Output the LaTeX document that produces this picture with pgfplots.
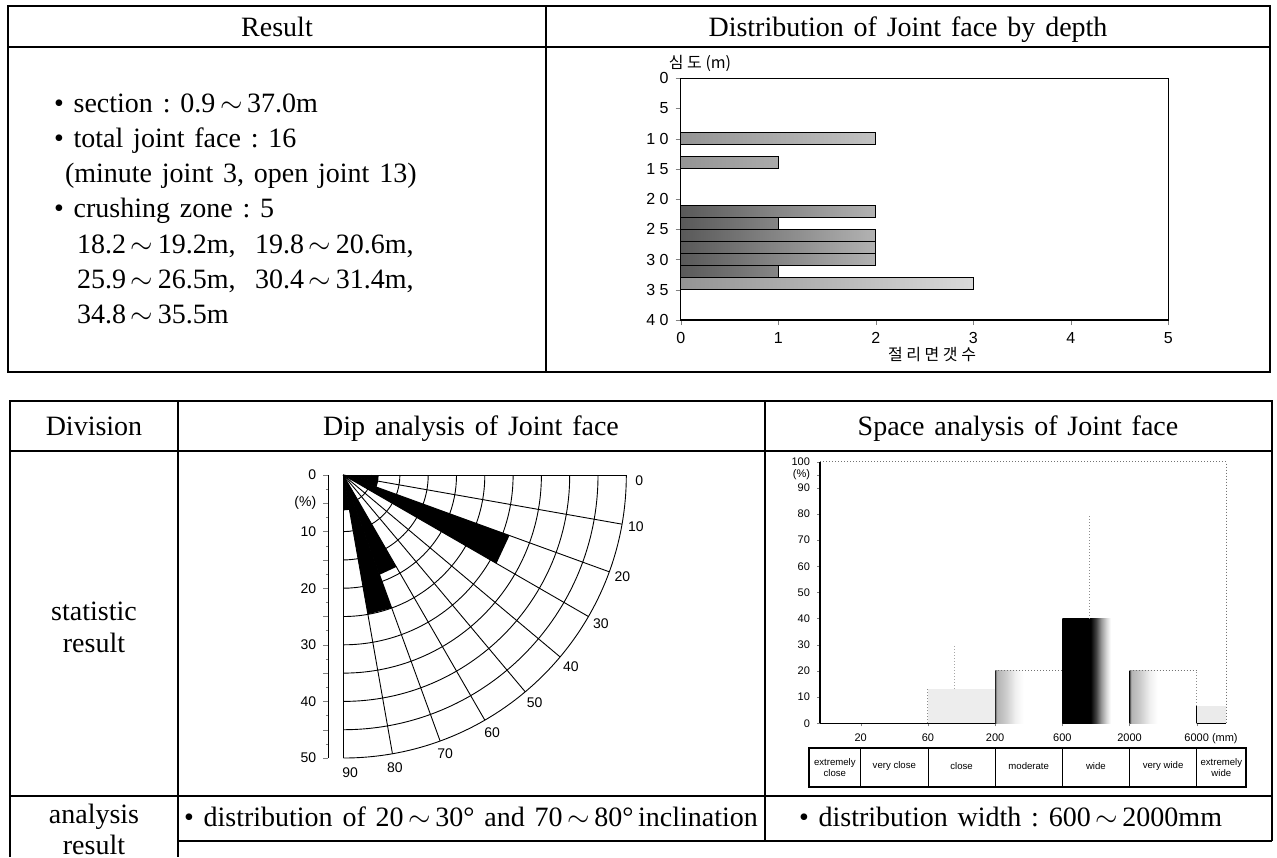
\documentclass[border=0pt]{standalone}
\usepackage{fontspec}
\setmainfont{Liberation Serif}[WordSpace=1.4]
\setsansfont{Liberation Sans}
\newfontfamily\kr{Noto Sans CJK KR}
\usepackage{pgfplots}
\pgfplotsset{compat=1.18}

\pgfdeclarehorizontalshading{wideshade}{100bp}{color(0bp)=(black); color(25bp)=(black); color(46bp)=(black); color(50bp)=(black!75); color(54bp)=(black!40); color(58bp)=(black!15); color(61bp)=(white); color(100bp)=(white)}
\pgfdeclarehorizontalshading{modshade}{100bp}{color(0bp)=(black!80); color(25bp)=(black!80); color(26bp)=(black!30); color(33bp)=(black!20); color(40bp)=(black!6); color(46bp)=(white); color(100bp)=(white)}

\begin{document}
\begin{tikzpicture}
\begin{scope}[x=0.5pt,y=-0.5pt,font=\fontsize{14}{17}\selectfont]
\path[use as bounding box] (0,0) rectangle (1277,857);
\fill[white] (0,0) rectangle (1277,857);
% ---------- top table ----------
\draw[line width=0.6pt] (8,6) rectangle (1270,372);
\draw[line width=0.6pt] (8,47) -- (1270,47);
\draw[line width=0.6pt] (546,6) -- (546,372);
\node[anchor=base] at (277,36) {Result};
\node[anchor=base] at (908,36) {Distribution of Joint face by depth};
\node[anchor=base west] at (47,112) {\textbullet\ section\ :\ 0.9\,$\sim$\,37.0m};
\node[anchor=base west] at (47,147) {\textbullet\ total joint face\ :\ 16};
\node[anchor=base west] at (58,182) {(minute joint 3, open joint 13)};
\node[anchor=base west] at (47,217) {\textbullet\ crushing zone\ :\ 5};
\node[anchor=base west] at (70,253) {18.2\,$\sim$\,19.2m,\ \ 19.8\,$\sim$\,20.6m,};
\node[anchor=base west] at (70,288) {25.9\,$\sim$\,26.5m,\ \ 30.4\,$\sim$\,31.4m,};
\node[anchor=base west] at (70,323) {34.8\,$\sim$\,35.5m};
\node[font=\kr\fontsize{8}{9}\selectfont] at (700,63) {심 도 (m)};
\node[font=\kr\fontsize{8}{9}\selectfont] at (932,355) {절 리 면 갯 수};
% ---------- bottom table ----------
\draw[line width=0.6pt] (10,857) -- (10,401) -- (1272,401) -- (1272,841);
\draw[line width=0.6pt] (10,451) -- (1272,451);
\draw[line width=0.6pt] (10,796) -- (1272,796);
\draw[line width=0.6pt] (178,401) -- (178,857);
\draw[line width=0.6pt] (765,401) -- (765,841);
\draw[line width=0.6pt] (178,841) -- (1272,841);
\node[anchor=base] at (94,435) {Division};
\node[anchor=base] at (471,435) {Dip analysis of Joint face};
\node[anchor=base] at (1018,435) {Space analysis of Joint face};
\node[anchor=base] at (94,620) {statistic};
\node[anchor=base] at (94,652) {result};
\node[anchor=base] at (94,823) {analysis};
\node[anchor=base] at (94,854) {result};
\node[anchor=base] at (471,826) {\textbullet\ distribution of 20\,$\sim$\,30°\ and 70\,$\sim$\,80°\,inclination};
\node[anchor=base west] at (792,826) {\textbullet\ distribution width\ :\ 600\,$\sim$\,2000mm};
\end{scope}

% ---------- depth histogram ----------
\begin{axis}[at={(340.35pt,-39.15pt)}, anchor=north west, scale only axis,
  width=243.75pt, height=120.85pt,
  xmin=0, xmax=5, ymin=0, ymax=40, y dir=reverse,
  xtick={0,1,2,3,4,5}, ytick={0,5,...,40},
  yticklabels={0,5,1\ 0,1\ 5,2\ 0,2\ 5,3\ 0,3\ 5,4\ 0},
  xtick pos=left, xticklabel pos=left, ytick pos=left,
  tick align=outside, major tick length=2.5pt,
  /pgf/number format/assume math mode=true,
  tick label style={font=\sffamily\fontsize{8}{9}\selectfont},
  axis line style={line width=0.6pt}, clip=false]
\addplot[xbar, bar shift=0pt, bar width=2, draw=black, line width=0.5pt, left color=black!42, right color=black!15] coordinates {(2,10) (1,14) (3,34)};
\addplot[xbar, bar shift=0pt, bar width=2, draw=black, line width=0.5pt, left color=black!65, right color=black!30] coordinates {(2,22) (1,24) (2,26) (2,28) (2,30) (1,32)};
\end{axis}

% ---------- dip rose diagram ----------
\begin{axis}[at={(164.15pt,-237.5pt)}, anchor=north west, scale only axis,
  width=149pt, height=141.5pt, xmin=-2.65, xmax=50, ymin=0, ymax=50, y dir=reverse,
  axis x line=none, axis y line*=left, xtick=\empty,
  ytick={0,5,...,50}, yticklabels={0,(\%),10,,20,,30,,40,,50},
  minor y tick num=1, tick align=outside, major tick length=2.5pt, minor tick length=1.2pt,
  tick label style={font=\sffamily\fontsize{7}{8}\selectfont},
  axis line style={line width=0.6pt}, clip=false]
\pgfplotsinvokeforeach{5,10,...,50}{\draw[black, line width=0.45pt] (axis cs:#1,0) arc[start angle=0, end angle=-90, radius={#1*2.83pt}];}
\addplot[black, line width=0.45pt, data cs=polar] coordinates {(0,0) (0,50)};
\addplot[black, line width=0.45pt, data cs=polar] coordinates {(10,0) (10,50)};
\addplot[black, line width=0.45pt, data cs=polar] coordinates {(20,0) (20,50)};
\addplot[black, line width=0.45pt, data cs=polar] coordinates {(30,0) (30,50)};
\addplot[black, line width=0.45pt, data cs=polar] coordinates {(40,0) (40,50)};
\addplot[black, line width=0.45pt, data cs=polar] coordinates {(50,0) (50,50)};
\addplot[black, line width=0.45pt, data cs=polar] coordinates {(60,0) (60,50)};
\addplot[black, line width=0.45pt, data cs=polar] coordinates {(70,0) (70,50)};
\addplot[black, line width=0.45pt, data cs=polar] coordinates {(80,0) (80,50)};
\addplot[black, line width=0.45pt, data cs=polar] coordinates {(90,0) (90,50)};
% petals: (dip angle, percent)
\addplot[fill=black, draw=none, data cs=polar] coordinates {(0,0) (0,6.25) (10,6.25)} --cycle;
\addplot[fill=black, draw=none, data cs=polar] coordinates {(0,0) (10,6.25) (20,6.25)} --cycle;
\addplot[fill=black, draw=none, data cs=polar] coordinates {(0,0) (20,31.25) (30,31.25)} --cycle;
\addplot[fill=black, draw=none, data cs=polar] coordinates {(0,0) (60,18.75) (70,18.75)} --cycle;
\addplot[fill=black, draw=none, data cs=polar] coordinates {(0,0) (70,25) (80,25)} --cycle;
\addplot[fill=black, draw=none, data cs=polar] coordinates {(0,0) (80,6.25) (90,6.25)} --cycle;
\begin{scope}[font=\sffamily\fontsize{7}{8}\selectfont]
\node at (axis cs:52.3,1.0) {0};
\node at (axis cs:51.7,9.1) {10};
\node at (axis cs:49.3,18.0) {20};
\node at (axis cs:45.5,26.3) {30};
\node at (axis cs:40.2,33.8) {40};
\node at (axis cs:33.8,40.2) {50};
\node at (axis cs:26.3,45.5) {60};
\node at (axis cs:18.0,49.3) {70};
\node at (axis cs:9.1,51.7) {80};
\node at (axis cs:1.2,52.6) {90};
\end{scope}
\end{axis}

% ---------- spacing histogram ----------
\begin{axis}[at={(410pt,-230.85pt)}, anchor=north west, scale only axis,
  width=203pt, height=130.8pt, xmin=0.394, xmax=6.436, ymin=0, ymax=100,
  axis lines*=left, xtick={1,...,6}, xticklabels={20,60,200,600,2000,6000\rlap{\ (mm)}},
  ytick={0,10,...,90,95,100}, yticklabels={0,10,20,30,40,50,60,70,80,90,(\%),100},
  tick align=outside, major tick length=1.5pt,
  tick label style={font=\sffamily\fontsize{5.5}{6}\selectfont},
  axis line style={line width=0.6pt}, clip=false]
\addplot[fill=black!7, draw=none] coordinates {(2,0) (2,13.3) (3,13.3) (3,0)} --cycle;
\addplot[shading=modshade, draw=none] coordinates {(3,0) (3,20) (4,20) (4,0)} --cycle;
\addplot[shading=wideshade, draw=none] coordinates {(4,0) (4,40) (5,40) (5,0)} --cycle;
\addplot[shading=modshade, draw=none] coordinates {(5,0) (5,20) (6,20) (6,0)} --cycle;
\addplot[fill=black!8, draw=none] coordinates {(6,0) (6,6.7) (6.436,6.7) (6.436,0)} --cycle;
\addplot[black!45, densely dotted, line width=0.5pt] coordinates {(2,0) (2,13.3)};
\addplot[black!55, densely dotted, line width=0.5pt] coordinates {(3,20) (4,20)};
\addplot[black!55, densely dotted, line width=0.5pt] coordinates {(5,20) (6,20)};
\addplot[black, line width=0.6pt] coordinates {(6,0) (6,6.7)};
\addplot[black!45, densely dotted, line width=0.5pt] coordinates {(6,6.7) (6,20)};
\addplot[black!45, densely dotted, line width=0.5pt] coordinates {(4.41,40) (4.41,80)};
\addplot[black!35, densely dotted, line width=0.5pt] coordinates {(2.4,13.3) (2.4,30)};
\draw[black!55, densely dotted, line width=0.5pt] (rel axis cs:0,1) -- (rel axis cs:1,1) -- (rel axis cs:1,0);
% class table
\draw[line width=0.7pt] (axis cs:0.231,-9.44) rectangle (axis cs:6.733,-24.35);
\pgfplotsinvokeforeach{1,2,3,4,5,6}{\draw[line width=0.4pt] (axis cs:#1,-9.44) -- (axis cs:#1,-24.35);}
\begin{scope}[font=\sffamily\fontsize{4.8}{5.4}\selectfont]
\node[align=center] at (axis cs:0.615,-16.9) {extremely\\close};
\node at (axis cs:1.5,-16.2) {very close};
\node at (axis cs:2.5,-16.2) {close};
\node at (axis cs:3.5,-16.2) {moderate};
\node at (axis cs:4.5,-16.2) {wide};
\node at (axis cs:5.5,-16.2) {very wide};
\node[align=center] at (axis cs:6.366,-16.9) {extremely\\wide};
\end{scope}
\end{axis}
\end{tikzpicture}
\end{document}
